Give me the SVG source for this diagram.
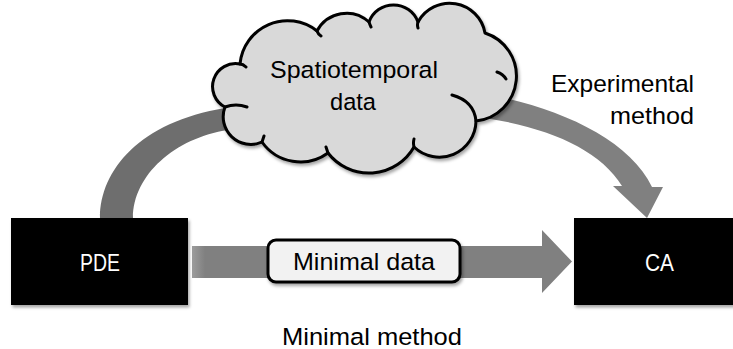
<svg xmlns="http://www.w3.org/2000/svg" width="733" height="349" viewBox="0 0 733 349">
  <defs>
    <filter id="sh" x="-10%" y="-10%" width="130%" height="130%">
      <feDropShadow dx="1.5" dy="2.5" stdDeviation="1.8" flood-color="#000" flood-opacity="0.35"/>
    </filter>
    <linearGradient id="shaftGrad" x1="192" y1="0" x2="205" y2="0" gradientUnits="userSpaceOnUse">
      <stop offset="0" stop-color="#9c9c9c"/>
      <stop offset="1" stop-color="#808080"/>
    </linearGradient>
    <style>
      .t { font-family: "Liberation Sans", Arial, sans-serif; font-size: 24.5px; fill: #000; }
      .w { fill: #fff; }
      .box { fill: #000; filter: url(#sh); }
      .cloud { fill: #d9d9d9; stroke: #000; stroke-width: 3; stroke-linejoin: round; }
      .tick { fill: none; stroke: #000; stroke-width: 3; stroke-linecap: round; }
    </style>
  </defs>
  <rect width="733" height="349" fill="#fff"/>

  <g id="connectors">
    <path id="arc-left" d="M 100,218 C 100,170 140,122 225,108 L 228,130 C 175,138 133,175 133,218 Z" fill="#6e6e6e"/>
    <path id="arc-right" d="M 490,95 C 560,108 630,140 652,187 L 663,187 L 647,218 L 613,186 L 622,186 C 600,150 550,128 485,118 Z" fill="#808080"/>
    <path id="arrow-min" d="M 192,246 L 542,246 L 542,230 L 572,261.5 L 542,293 L 542,278 L 192,278 Z" fill="url(#shaftGrad)"/>
  </g>

  <g id="node-cloud">
    <path class="cloud" filter="url(#sh)" d="M 225,107 A 23 23 0 0 1 240,64 A 47.6 47.6 0 0 1 317,31 A 33.3 33.3 0 0 1 369,22 A 26.1 26.1 0 0 1 418,22 A 36 36 0 0 1 485,33 A 45.2 45.2 0 0 1 476,121 A 36.7 36.7 0 0 1 414,147 A 51.9 51.9 0 0 1 328,153 A 47 47 0 0 1 262,142 A 27.6 27.6 0 0 1 225,107 Z"/>
    <path class="tick" d="M 225,107 Q 236,103 247,107 M 452,95 Q 474,101 476,121 M 497,72 Q 503,74 506,79 M 240,64 Q 243,64 246,67 M 317,31 Q 318,34 321,36 M 369,22 Q 370,25 371,27 M 418,22 Q 417,25 418,28 M 414,147 Q 413,143 414,139 M 328,153 Q 327,150 326,147 M 262,142 Q 263,139 264,136"/>
    <text class="t" x="354" y="78" text-anchor="middle" textLength="168" lengthAdjust="spacingAndGlyphs">Spatiotemporal</text>
    <text class="t" x="353" y="110" text-anchor="middle" textLength="46" lengthAdjust="spacingAndGlyphs">data</text>
  </g>

  <g id="node-pde">
    <rect class="box" x="11" y="218" width="177" height="87"/>
    <text class="t w" x="100" y="271" text-anchor="middle" textLength="40" lengthAdjust="spacingAndGlyphs">PDE</text>
  </g>

  <g id="node-ca">
    <rect class="box" x="574" y="218" width="170" height="87"/>
    <text class="t w" x="659.5" y="271" text-anchor="middle" textLength="29" lengthAdjust="spacingAndGlyphs">CA</text>
  </g>

  <g id="node-minimal-data">
    <rect x="268" y="240" width="192" height="42" rx="8" ry="8" fill="#f2f2f2" stroke="#000" stroke-width="3" filter="url(#sh)"/>
    <text class="t" x="364" y="270" text-anchor="middle" textLength="142" lengthAdjust="spacingAndGlyphs">Minimal data</text>
  </g>

  <g id="labels">
    <text class="t" x="694" y="92" text-anchor="end" textLength="143" lengthAdjust="spacingAndGlyphs">Experimental</text>
    <text class="t" x="694" y="124" text-anchor="end" textLength="84" lengthAdjust="spacingAndGlyphs">method</text>
    <text class="t" x="372" y="345" text-anchor="middle" textLength="180" lengthAdjust="spacingAndGlyphs">Minimal method</text>
  </g>
</svg>
